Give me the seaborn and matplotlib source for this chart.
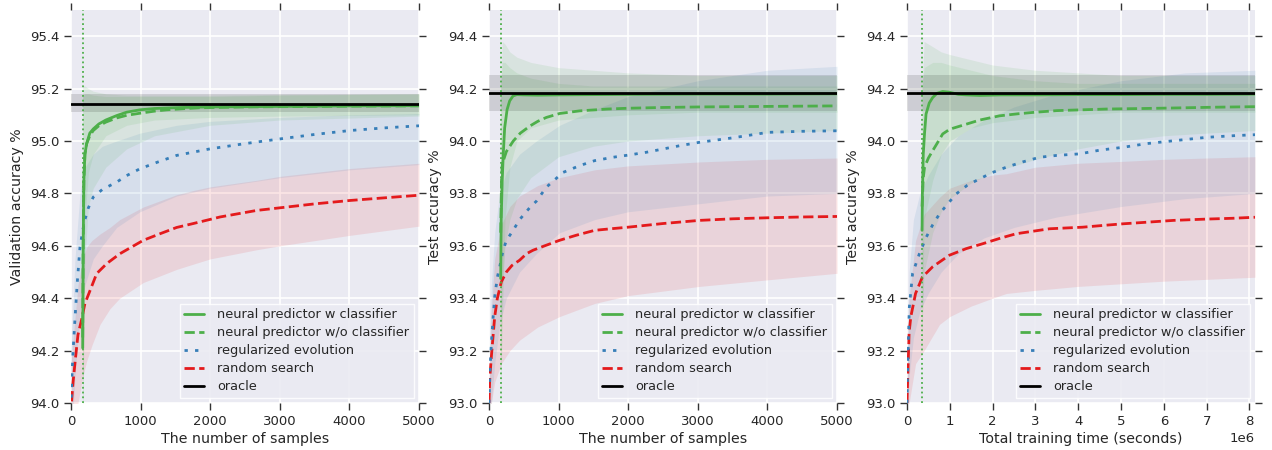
import matplotlib
matplotlib.use("Agg")
import matplotlib.pyplot as plt
from matplotlib.lines import Line2D
import seaborn as sns

# ---------------- data ----------------
labels = ["neural predictor w classifier", "neural predictor w/o classifier",
          "regularized evolution", "random search", "oracle"]

# Panel 1: validation accuracy vs number of samples
v_rand_x = [0, 10, 30, 60, 100, 154, 200, 260, 369, 513, 704, 1039, 1279, 1518, 1757, 2141, 2668, 3003, 3500, 4009, 4500, 5000]
v_rand_y = [93.95, 94.01, 94.08, 94.16, 94.26, 94.32, 94.38, 94.42, 94.494, 94.532, 94.57, 94.621, 94.646, 94.67, 94.685, 94.71, 94.735, 94.745, 94.76, 94.773, 94.783, 94.793]
v_rand_bx = [0, 100, 170, 225, 300, 417, 560, 700, 1039, 1518, 1757, 2000, 2668, 3003, 4009, 5000]
v_rand_lo = [93.8, 94.0, 94.1, 94.16, 94.22, 94.3, 94.36, 94.4, 94.46, 94.51, 94.53, 94.55, 94.585, 94.6, 94.64, 94.675]
v_rand_hi = [94.15, 94.45, 94.55, 94.595, 94.62, 94.645, 94.67, 94.7, 94.748, 94.795, 94.811, 94.825, 94.85, 94.865, 94.895, 94.915]

v_reg_x = [0, 10, 30, 57, 90, 129, 170, 201, 250, 320, 450, 656, 800, 991, 1250, 1518, 1997, 2500, 3003, 3500, 4009, 4500, 5000]
v_reg_y = [93.98, 94.08, 94.2, 94.32, 94.46, 94.595, 94.66, 94.70, 94.745, 94.786, 94.815, 94.843, 94.868, 94.894, 94.92, 94.945, 94.97, 94.99, 95.008, 95.025, 95.04, 95.05, 95.058]
v_reg_bx = [0, 57, 129, 201, 320, 450, 656, 991, 1518, 1997, 3003, 4009, 5000]
v_reg_lo = [93.8, 94.1, 94.35, 94.45, 94.55, 94.6, 94.67, 94.73, 94.79, 94.82, 94.86, 94.89, 94.91]
v_reg_hi = [94.2, 94.55, 94.8, 94.9, 94.95, 94.98, 95.0, 95.03, 95.06, 95.075, 95.09, 95.1, 95.105]

v_npc_x = [168, 175, 185, 200, 225, 270, 320, 400, 500, 656, 800, 991, 1200, 1375, 1600, 2000, 3000, 4000, 5000]
v_npc_y = [94.21, 94.6, 94.85, 94.95, 94.99, 95.03, 95.046, 95.065, 95.08, 95.097, 95.11, 95.119, 95.124, 95.126, 95.128, 95.13, 95.132, 95.134, 95.135]
v_npc_bx = [168, 200, 250, 320, 500, 800, 1200, 2000, 3000, 5000]
v_npc_lo = [93.9, 94.7, 94.88, 94.95, 95.02, 95.06, 95.08, 95.09, 95.095, 95.1]
v_npc_hi = [95.21, 95.21, 95.2, 95.19, 95.18, 95.175, 95.175, 95.175, 95.178, 95.18]

v_np_x = [168, 175, 185, 200, 225, 270, 320, 400, 500, 656, 800, 991, 1200, 1375, 1600, 1853, 2500, 3000, 4000, 5000]
v_np_y = [94.25, 94.6, 94.85, 94.95, 94.99, 95.02, 95.04, 95.058, 95.072, 95.088, 95.098, 95.106, 95.114, 95.119, 95.123, 95.127, 95.13, 95.131, 95.133, 95.134]
v_np_bx = [168, 200, 250, 320, 500, 800, 1200, 2000, 3000, 5000]
v_np_lo = [93.9, 94.55, 94.75, 94.82, 94.9, 94.97, 95.02, 95.06, 95.08, 95.095]
v_np_hi = [95.17, 95.18, 95.18, 95.175, 95.17, 95.17, 95.17, 95.17, 95.175, 95.18]

v_oracle_mean = 95.143
v_oracle_lo = 95.11
v_oracle_hi = 95.178
v_start = 170

# Panel 2: test accuracy vs number of samples
t_rand_x = [0, 10, 34, 60, 82, 120, 177, 250, 330, 440, 540, 632, 800, 1015, 1250, 1518, 1750, 1997, 2500, 3024, 3500, 4007, 4500, 5000]
t_rand_y = [93.0, 93.09, 93.177, 93.26, 93.329, 93.40, 93.462, 93.50, 93.525, 93.545, 93.57, 93.583, 93.60, 93.621, 93.64, 93.659, 93.665, 93.671, 93.685, 93.697, 93.703, 93.707, 93.71, 93.712]
t_rand_bx = [0, 34, 82, 177, 300, 440, 700, 1015, 1518, 2000, 3024, 4000, 5000]
t_rand_lo = [92.9, 93.0, 93.08, 93.15, 93.2, 93.24, 93.29, 93.33, 93.38, 93.41, 93.445, 93.47, 93.495]
t_rand_hi = [93.05, 93.35, 93.55, 93.68, 93.75, 93.79, 93.83, 93.86, 93.89, 93.905, 93.92, 93.93, 93.935]

t_reg_x = [0, 5, 15, 34, 60, 82, 120, 154, 200, 249, 349, 440, 593, 680, 825, 1063, 1303, 1518, 1782, 1997, 2261, 2740, 3024, 3500, 4007, 4500, 5000]
t_reg_y = [93.0, 93.04, 93.13, 93.228, 93.33, 93.405, 93.48, 93.52, 93.58, 93.62, 93.66, 93.70, 93.748, 93.77, 93.824, 93.88, 93.906, 93.925, 93.938, 93.946, 93.957, 93.982, 93.995, 94.012, 94.033, 94.037, 94.039]
t_reg_bx = [0, 34, 82, 153, 249, 440, 680, 1015, 1518, 2000, 3000, 4000, 5000]
t_reg_lo = [92.9, 93.0, 93.15, 93.3, 93.4, 93.5, 93.57, 93.65, 93.70, 93.73, 93.76, 93.79, 93.80]
t_reg_hi = [93.1, 93.45, 93.65, 93.8, 93.88, 93.95, 94.0, 94.06, 94.12, 94.17, 94.23, 94.27, 94.285]

t_npc_x = [168, 175, 190, 205, 225, 260, 297, 345, 400, 500, 700, 1000, 1500, 2000, 3000, 4000, 5000]
t_npc_y = [93.475, 93.7, 93.85, 93.95, 94.05, 94.12, 94.153, 94.172, 94.177, 94.176, 94.175, 94.176, 94.177, 94.178, 94.179, 94.179, 94.18]
t_npc_bx = [168, 190, 230, 300, 400, 600, 1000, 1500, 2000, 3000, 4000, 5000]
t_npc_lo = [93.0, 93.3, 93.7, 93.9, 94.0, 94.05, 94.08, 94.09, 94.1, 94.11, 94.11, 94.11]
t_npc_hi = [94.2, 94.38, 94.37, 94.34, 94.32, 94.3, 94.28, 94.27, 94.26, 94.25, 94.25, 94.25]

t_np_x = [168, 180, 191, 250, 349, 450, 593, 700, 825, 1015, 1303, 1700, 1997, 2500, 3024, 4000, 5000]
t_np_y = [93.65, 93.85, 93.913, 93.96, 94.0, 94.03, 94.058, 94.075, 94.09, 94.105, 94.115, 94.122, 94.125, 94.128, 94.13, 94.132, 94.134]
t_np_bx = [168, 190, 230, 300, 400, 600, 1000, 1500, 2000, 3000, 4000, 5000]
t_np_lo = [93.1, 93.45, 93.6, 93.7, 93.78, 93.86, 93.94, 93.98, 94.0, 94.02, 94.03, 94.04]
t_np_hi = [94.2, 94.3, 94.3, 94.28, 94.26, 94.24, 94.22, 94.21, 94.21, 94.21, 94.21, 94.21]

t_oracle_mean = 94.182
t_oracle_lo = 94.113
t_oracle_hi = 94.252
t_start = 170

# Panel 3: test accuracy vs total training time (seconds)
s_rand_x = [0, 0.01e6, 0.05e6, 0.09e6, 0.2e6, 0.36e6, 0.6e6, 0.99e6, 1.38e6, 1.77e6, 2.2e6, 2.55e6, 3.33e6, 4.1e6, 4.6e6, 5.05e6, 5.6e6, 6.23e6, 7.0e6, 7.6e6, 8.13e6]
s_rand_y = [93.0, 93.06, 93.27, 93.33, 93.418, 93.481, 93.52, 93.564, 93.589, 93.608, 93.63, 93.646, 93.665, 93.671, 93.678, 93.684, 93.69, 93.697, 93.702, 93.705, 93.709]
s_rand_bx = [0, 0.05e6, 0.2e6, 0.4e6, 0.76e6, 1.0e6, 1.5e6, 2.0e6, 2.32e6, 3.0e6, 4.0e6, 5.0e6, 6.0e6, 7.0e6, 8.13e6]
s_rand_lo = [92.9, 93.0, 93.15, 93.2, 93.3, 93.33, 93.37, 93.40, 93.418, 93.43, 93.445, 93.455, 93.465, 93.472, 93.48]
s_rand_hi = [93.05, 93.4, 93.62, 93.72, 93.785, 93.82, 93.85, 93.87, 93.875, 93.9, 93.915, 93.922, 93.93, 93.935, 93.94]

s_reg_x = [0, 0.016e6, 0.055e6, 0.13e6, 0.29e6, 0.45e6, 0.6e6, 0.76e6, 0.95e6, 1.15e6, 1.4e6, 1.7e6, 2.0e6, 2.32e6, 2.7e6, 3.1e6, 3.5e6, 4.04e6, 4.5e6, 5.05e6, 5.6e6, 6.23e6, 7.0e6, 7.6e6, 8.13e6]
s_reg_y = [93.0, 93.139, 93.367, 93.494, 93.57, 93.633, 93.68, 93.722, 93.76, 93.798, 93.83, 93.856, 93.88, 93.90, 93.92, 93.938, 93.945, 93.951, 93.965, 93.976, 93.99, 94.001, 94.014, 94.02, 94.024]
s_reg_bx = [0, 0.05e6, 0.15e6, 0.3e6, 0.5e6, 0.8e6, 1.2e6, 1.8e6, 2.5e6, 3.5e6, 5.0e6, 6.5e6, 8.13e6]
s_reg_lo = [92.9, 93.1, 93.25, 93.35, 93.42, 93.5, 93.57, 93.63, 93.67, 93.71, 93.75, 93.78, 93.8]
s_reg_hi = [93.1, 93.5, 93.7, 93.8, 93.87, 93.95, 94.02, 94.08, 94.13, 94.18, 94.23, 94.26, 94.27]

s_npc_x = [0.352e6, 0.36e6, 0.38e6, 0.41e6, 0.445e6, 0.52e6, 0.6e6, 0.7e6, 0.834e6, 1.0e6, 1.2e6, 1.38e6, 1.7e6, 2.2e6, 3.0e6, 4.0e6, 5.0e6, 6.0e6, 7.0e6, 8.13e6]
s_npc_y = [93.659, 93.8, 93.95, 94.03, 94.103, 94.145, 94.166, 94.182, 94.189, 94.186, 94.178, 94.176, 94.174, 94.176, 94.176, 94.177, 94.177, 94.178, 94.178, 94.179]
s_npc_bx = [0.352e6, 0.4e6, 0.6e6, 0.8e6, 1.0e6, 1.5e6, 2.0e6, 3.0e6, 4.0e6, 5.0e6, 6.0e6, 7.0e6, 8.13e6]
s_npc_lo = [93.2, 93.7, 93.85, 93.95, 94.0, 94.05, 94.07, 94.09, 94.1, 94.11, 94.11, 94.11, 94.11]
s_npc_hi = [94.2, 94.38, 94.36, 94.34, 94.33, 94.31, 94.29, 94.27, 94.26, 94.25, 94.25, 94.25, 94.25]

s_np_x = [0.352e6, 0.38e6, 0.41e6, 0.5e6, 0.6e6, 0.7e6, 0.834e6, 1.0e6, 1.38e6, 1.7e6, 2.16e6, 2.6e6, 2.94e6, 3.5e6, 4.66e6, 5.5e6, 6.23e6, 7.2e6, 8.13e6]
s_np_y = [93.75, 93.86, 93.90, 93.935, 93.963, 93.99, 94.027, 94.045, 94.064, 94.08, 94.096, 94.104, 94.109, 94.116, 94.122, 94.124, 94.126, 94.129, 94.131]
s_np_bx = [0.352e6, 0.4e6, 0.6e6, 0.8e6, 1.0e6, 1.5e6, 2.0e6, 3.0e6, 4.0e6, 5.0e6, 6.0e6, 7.0e6, 8.13e6]
s_np_lo = [93.3, 93.5, 93.65, 93.73, 93.78, 93.84, 93.88, 93.93, 93.97, 94.0, 94.02, 94.03, 94.04]
s_np_hi = [94.2, 94.28, 94.3, 94.3, 94.29, 94.27, 94.25, 94.23, 94.22, 94.22, 94.22, 94.22, 94.22]

s_oracle_mean = 94.182
s_oracle_lo = 94.113
s_oracle_hi = 94.252
s_start = 0.352e6

v_yticks = [94.0, 94.2, 94.4, 94.6, 94.8, 95.0, 95.2, 95.4]
t_yticks = [93.0, 93.2, 93.4, 93.6, 93.8, 94.0, 94.2, 94.4]
n_xticks = [0, 1000, 2000, 3000, 4000, 5000]
s_xticks = [0, 1e6, 2e6, 3e6, 4e6, 5e6, 6e6, 7e6, 8e6]

# ---------------- style ----------------
sns.set_style("darkgrid")
plt.rcParams["font.family"] = ["DejaVu Sans"]
plt.rcParams["axes.facecolor"] = "#EAEAF2"
plt.rcParams["grid.color"] = "white"
plt.rcParams["grid.linewidth"] = 1.2

GREEN = "#4daf4a"
BLUE = "#377eb8"
RED = "#e41a1c"
DOTS = (0, (1.2, 2.6))

fig = plt.figure(figsize=(12.72, 4.5), dpi=100)
W, H = 1272.0, 450.0
ax_w = 348
lefts = [71, 489, 907]
axes = [fig.add_axes([l / W, 1 - 403 / H, ax_w / W, 393 / H]) for l in lefts]

panels = [
    dict(rand=(v_rand_x, v_rand_y, v_rand_bx, v_rand_lo, v_rand_hi),
         reg=(v_reg_x, v_reg_y, v_reg_bx, v_reg_lo, v_reg_hi),
         np=(v_np_x, v_np_y, v_np_bx, v_np_lo, v_np_hi),
         npc=(v_npc_x, v_npc_y, v_npc_bx, v_npc_lo, v_npc_hi),
         oracle=(v_oracle_mean, v_oracle_lo, v_oracle_hi), start=v_start,
         ylim=(94.0, 95.5), yticks=v_yticks, xlim=(0, 5000), xticks=n_xticks,
         xlabel="The number of samples", ylabel="Validation accuracy %"),
    dict(rand=(t_rand_x, t_rand_y, t_rand_bx, t_rand_lo, t_rand_hi),
         reg=(t_reg_x, t_reg_y, t_reg_bx, t_reg_lo, t_reg_hi),
         np=(t_np_x, t_np_y, t_np_bx, t_np_lo, t_np_hi),
         npc=(t_npc_x, t_npc_y, t_npc_bx, t_npc_lo, t_npc_hi),
         oracle=(t_oracle_mean, t_oracle_lo, t_oracle_hi), start=t_start,
         ylim=(93.0, 94.5), yticks=t_yticks, xlim=(0, 5000), xticks=n_xticks,
         xlabel="The number of samples", ylabel="Test accuracy %"),
    dict(rand=(s_rand_x, s_rand_y, s_rand_bx, s_rand_lo, s_rand_hi),
         reg=(s_reg_x, s_reg_y, s_reg_bx, s_reg_lo, s_reg_hi),
         np=(s_np_x, s_np_y, s_np_bx, s_np_lo, s_np_hi),
         npc=(s_npc_x, s_npc_y, s_npc_bx, s_npc_lo, s_npc_hi),
         oracle=(s_oracle_mean, s_oracle_lo, s_oracle_hi), start=s_start,
         ylim=(93.0, 94.5), yticks=t_yticks, xlim=(0, 8.13e6), xticks=s_xticks,
         xlabel="Total training time (seconds)", ylabel="Test accuracy %"),
]

styles = {
    "rand": dict(color=RED, ls="--"),
    "reg": dict(color=BLUE, ls=DOTS),
    "np": dict(color=GREEN, ls="--"),
    "npc": dict(color=GREEN, ls="-"),
}

for ax, p in zip(axes, panels):
    # bands
    for key in ["rand", "reg", "np", "npc"]:
        x, y, bx, lo, hi = p[key]
        ax.fill_between(bx, lo, hi, color=styles[key]["color"], alpha=0.11, lw=0, zorder=1)
    om, olo, ohi = p["oracle"]
    ax.axhspan(olo, ohi, color="black", alpha=0.12, lw=0, zorder=1.5)
    # lines
    for key, z in [("rand", 2), ("reg", 2.1), ("np", 2.2), ("npc", 2.3)]:
        x, y, bx, lo, hi = p[key]
        sns.lineplot(x=x, y=y, ax=ax, color=styles[key]["color"], linestyle=styles[key]["ls"],
                     linewidth=2, estimator=None, sort=False, zorder=z)
    ax.axhline(om, color="black", lw=2, zorder=2.5)
    ax.axvline(p["start"], color=GREEN, ls=":", lw=1.3, zorder=2.4)

    ax.set_xlim(*p["xlim"])
    ax.set_ylim(*p["ylim"])
    ax.set_xticks(p["xticks"])
    ax.set_yticks(p["yticks"])
    ax.set_yticklabels([f"{t:.1f}" for t in p["yticks"]])
    ax.set_xlabel(p["xlabel"], fontsize=10.2, color="#262626", labelpad=3)
    ax.set_ylabel(p["ylabel"], fontsize=10.2, color="#262626", labelpad=4)
    ax.tick_params(axis="both", which="major", direction="out", length=5, width=1,
                   color="#333333", labelcolor="#262626", labelsize=9.5,
                   top=True, right=True, bottom=True, left=True)
    for s in ax.spines.values():
        s.set_visible(False)
    ax.grid(True, color="white", lw=1.2)

    handles = [
        Line2D([], [], color=GREEN, lw=2, ls="-"),
        Line2D([], [], color=GREEN, lw=2, ls="--"),
        Line2D([], [], color=BLUE, lw=2, ls=DOTS),
        Line2D([], [], color=RED, lw=2, ls="--"),
        Line2D([], [], color="black", lw=2, ls="-"),
    ]
    leg = ax.legend(handles, labels, loc="lower right", fontsize=9.3, frameon=True,
                    fancybox=False, facecolor="#EAEAF2", edgecolor="white", framealpha=0.85,
                    handlelength=1.55, handletextpad=1.0, labelspacing=0.38,
                    borderpad=0.35, borderaxespad=0.42)
    leg.get_frame().set_linewidth(1.0)

axes[2].xaxis.get_offset_text().set_fontsize(9.5)

fig.savefig("out.png", dpi=100)
